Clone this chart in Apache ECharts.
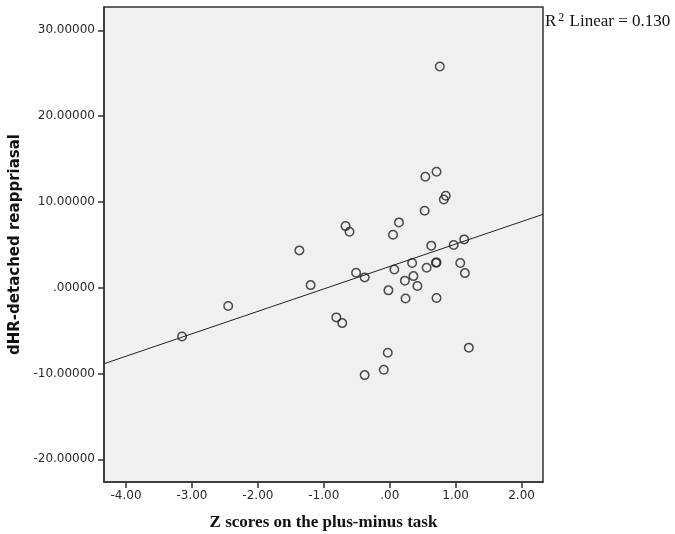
<!DOCTYPE html>
<html>
<head>
<meta charset="utf-8">
<script src="https://cdn.jsdelivr.net/npm/echarts@6/dist/echarts.min.js"></script>
<style>
  html, body { margin: 0; padding: 0; background: #fff; }
  #chart { width: 675px; height: 534px; }
</style>
</head>
<body>
<div id="chart"></div>
<script>
'use strict';

// Z scores on the plus-minus task
var zScores = [
    0.76, 0.71, 0.54, 0.85, 0.82, 0.53, 0.14, -0.67, -0.61, 0.05,
    -1.37, 0.63, 0.97, 1.13, -1.20, -0.51, -0.38, 0.07, 0.34, 0.56,
    0.71, 0.70, 1.07, 1.14, 0.36, 0.23, 0.42, -0.02, 0.24, 0.71,
    -2.45, -0.81, -0.72, -3.15, 1.20, -0.03, -0.09, -0.38
];
// dHR-detached reappraisal
var dhrValues = [
    25.79, 13.52, 12.94, 10.72, 10.29, 8.97, 7.61, 7.18, 6.53, 6.18,
    4.35, 4.90, 4.97, 5.63, 0.30, 1.75, 1.20, 2.13, 2.87, 2.33,
    2.95, 2.91, 2.87, 1.70, 1.35, 0.82, 0.19, -0.31, -1.26, -1.21,
    -2.14, -3.46, -4.13, -5.68, -6.99, -7.58, -9.56, -10.19
];
var xTicks = [-4, -3, -2, -1, 0, 1, 2];
var yTicks = [-20, -10, 0, 10, 20, 30];
var xRange = [-4.334, 2.325];
var yRange = [-22.65, 32.72];
var r2Text = '0.130';

// 最小二乘拟合
function linearFit(xs, ys) {
    var n = xs.length, sx = 0, sy = 0, sxx = 0, sxy = 0;
    for (var i = 0; i < n; i++) {
        sx += xs[i]; sy += ys[i];
        sxx += xs[i] * xs[i]; sxy += xs[i] * ys[i];
    }
    var b = (n * sxy - sx * sy) / (n * sxx - sx * sx);
    return { a: (sy - b * sx) / n, b: b };
}

var fit = linearFit(zScores, dhrValues);
var points = zScores.map(function (x, i) { return [x, dhrValues[i]]; });
var fitLine = xRange.map(function (x) { return [x, fit.a + fit.b * x]; });

function fmt(v, d) {
    var s = Math.abs(v).toFixed(d);
    if (Math.abs(v) < 1) s = s.replace(/^0/, '');
    return (v < 0 ? '-' : '') + s;
}

var chart = echarts.init(document.getElementById('chart'));

chart.setOption({
    animation: false,
    grid: {
        left: 104, right: 132, top: 7, bottom: 52,
        outerBoundsMode: 'none',
        containLabel: false,
        show: true,
        backgroundColor: '#f0f0f0',
        borderColor: '#333',
        borderWidth: 1.5
    },
    xAxis: {
        type: 'value',
        min: xRange[0], max: xRange[1],
        name: 'Z scores on the plus-minus task',
        nameLocation: 'middle',
        nameGap: 32,
        nameTextStyle: {
            fontFamily: 'Liberation Serif', fontWeight: 'bold',
            fontSize: 17, color: '#111'
        },
        axisLine: { show: true, onZero: false, lineStyle: { color: '#333', width: 1.5 } },
        axisTick: { show: true, length: 6, customValues: xTicks, lineStyle: { color: '#333', width: 1.5 } },
        axisLabel: {
            customValues: xTicks, margin: 8,
            fontFamily: 'DejaVu Sans', fontSize: 12, color: '#2a2a2a',
            formatter: function (v) { return fmt(v, 2); }
        },
        splitLine: { show: false }
    },
    yAxis: {
        type: 'value',
        min: yRange[0], max: yRange[1],
        name: 'dHR-detached reappriasal',
        nameLocation: 'middle',
        nameGap: 78,
        nameTextStyle: {
            fontFamily: 'DejaVu Sans', fontWeight: 'bold',
            fontSize: 15, color: '#111'
        },
        axisLine: { show: true, onZero: false, lineStyle: { color: '#333', width: 1.5 } },
        axisTick: { show: true, length: 6, customValues: yTicks, lineStyle: { color: '#333', width: 1.5 } },
        axisLabel: {
            customValues: yTicks, margin: 9,
            fontFamily: 'DejaVu Sans', fontSize: 12, color: '#2a2a2a',
            formatter: function (v) { return fmt(v, 5); }
        },
        splitLine: { show: false }
    },
    graphic: [{
        type: 'text',
        left: 545, top: 12,
        style: {
            text: '{r|R}{s|2}{r| Linear = ' + r2Text + '}',
            rich: {
                r: { fontFamily: 'Liberation Serif', fontSize: 17, fill: '#111' },
                s: { fontFamily: 'Liberation Serif', fontSize: 12, fill: '#111', verticalAlign: 'top', padding: [0, 1, 8, 2] }
            }
        }
    }],
    series: [
        {
            type: 'line',
            data: fitLine,
            showSymbol: false,
            lineStyle: { color: '#222', width: 1 },
            silent: true
        },
        {
            type: 'scatter',
            data: points,
            symbol: 'circle',
            symbolSize: 8.5,
            itemStyle: { color: 'rgba(0,0,0,0)', borderColor: '#222', borderWidth: 1.5 }
        }
    ]
});
</script>
</body>
</html>
